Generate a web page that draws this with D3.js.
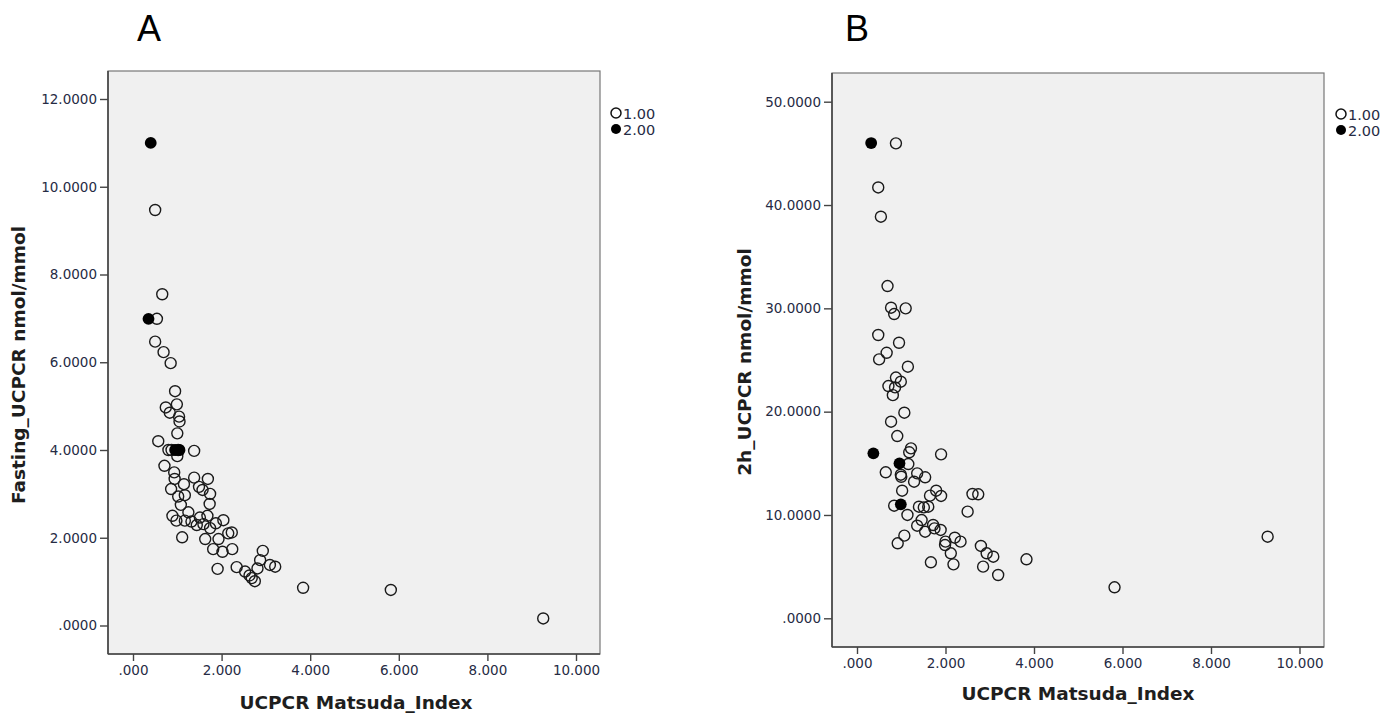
<!DOCTYPE html>
<html>
<head>
<meta charset="utf-8">
<script src="https://cdn.jsdelivr.net/npm/d3@7"></script>
<style>
  body { margin: 0; background: #fff; }
  svg { display: block; }
</style>
</head>
<body>
<div id="chart"></div>
<script>
// ---- data ----
const groups = ["1.00", "2.00"];
const xTicks = [0, 2, 4, 6, 8, 10];
const yTicksA = [0, 2, 4, 6, 8, 10, 12];
const yTicksB = [0, 10, 20, 30, 40, 50];

// panel A: [Matsuda index, fasting UCPCR]
const fastingG1 = [
  [0.50,9.47],[0.66,7.55],[0.54,6.99],[0.50,6.47],[0.69,6.23],[0.85,5.98],
  [0.95,5.34],[0.74,4.97],[0.99,5.04],[0.83,4.85],[1.04,4.76],[1.05,4.65],[1.00,4.38],[0.57,4.20],
  [0.80,4.00],[0.87,4.00],[1.02,4.00],[1.38,3.98],[1.00,3.86],
  [0.71,3.64],[0.93,3.49],[0.94,3.34],[1.38,3.37],[1.69,3.34],[1.15,3.22],[1.49,3.16],[1.57,3.09],
  [0.86,3.11],[1.17,2.97],[1.02,2.94],[1.74,3.00],[1.08,2.75],[1.73,2.77],[1.25,2.58],[0.89,2.50],
  [0.98,2.39],[1.17,2.39],[1.32,2.37],[1.51,2.46],[1.59,2.31],[1.68,2.50],[1.44,2.29],[1.87,2.33],
  [2.04,2.40],[1.74,2.22],[2.15,2.10],[2.23,2.12],[1.11,2.01],[1.63,1.97],[1.93,1.97],[1.81,1.74],
  [2.02,1.68],[2.24,1.74],[1.91,1.29],[2.34,1.33],[2.53,1.23],[2.63,1.14],[2.68,1.08],[2.75,1.01],
  [2.93,1.70],[2.87,1.49],[2.81,1.30],[3.09,1.38],[3.21,1.34],[3.84,0.86],[5.82,0.81],[9.26,0.16]
];
const fastingG2 = [[0.40,11.0],[0.35,6.99],[0.95,4.0],[1.05,4.0]];

// panel B: [Matsuda index, 2h UCPCR]
const twoHourG1 = [
  [0.88,45.97],[0.48,41.7],[0.54,38.87],[0.69,32.16],[0.77,30.06],[1.10,30.0],[0.84,29.45],
  [0.48,27.42],[0.95,26.67],[0.67,25.7],[0.50,25.06],[1.15,24.35],[0.88,23.3],[0.99,22.9],
  [0.71,22.48],[0.86,22.35],[0.81,21.6],[1.07,19.9],[0.77,19.03],[0.91,17.64],[1.22,16.45],
  [1.18,16.07],[1.90,15.87],[1.16,14.93],[0.65,14.13],[0.99,13.9],[1.00,13.7],[1.36,14.03],
  [1.54,13.65],[1.29,13.22],[1.02,12.35],[1.79,12.35],[1.65,11.87],[1.90,11.84],[2.61,12.03],
  [2.74,12.0],[2.50,10.32],[0.84,10.9],[1.40,10.8],[1.51,10.74],[1.61,10.8],[1.14,10.0],
  [1.46,9.51],[1.36,8.96],[1.72,9.03],[1.75,8.7],[1.89,8.55],[1.54,8.38],[1.07,8.0],[0.92,7.26],
  [2.21,7.8],[2.00,7.42],[2.34,7.42],[1.99,7.09],[2.80,7.0],[2.93,6.29],[3.08,5.96],[2.12,6.29],
  [3.83,5.71],[1.67,5.42],[2.18,5.22],[2.85,5.0],[3.19,4.19],[9.28,7.9],[5.82,3.0]
];
const twoHourG2 = [[0.32,46.0],[0.37,15.97],[0.96,15.0],[0.99,11.03]];

const W = 1397, H = 713;
const tickFont = "DejaVu Sans, Verdana, sans-serif";
const tickColor = "#262b44";

const svg = d3.select("#chart").append("svg")
  .attr("width", W).attr("height", H);

const fmtX = v => d3.format(".3f")(v).replace(/^0\./, ".");
const fmtY = v => d3.format(".4f")(v).replace(/^0\./, ".");

function drawPanel(p) {
  const {frame} = p;
  const x = d3.scaleLinear().domain([0, 10]).range(p.xRange);
  const y = d3.scaleLinear().domain(p.yDomain).range(p.yRange);
  const g = svg.append("g");

  // panel letter
  g.append("text")
    .attr("x", p.letterX).attr("y", 41)
    .attr("text-anchor", "middle")
    .style("font-family", "Liberation Sans, Arial, sans-serif")
    .style("font-size", "36px")
    .text(p.letter);

  // plot background and frame
  g.append("rect")
    .attr("x", frame.left).attr("y", frame.top)
    .attr("width", frame.right - frame.left).attr("height", frame.bottom - frame.top)
    .attr("fill", "#f0f0f0").attr("stroke", "#777").attr("stroke-width", 1.2);

  // axes
  const xAxis = d3.axisBottom(x).tickValues(xTicks).tickFormat(fmtX).tickSize(7).tickPadding(4);
  const gx = g.append("g").attr("transform", `translate(0,${frame.bottom})`).call(xAxis);
  gx.select(".domain").attr("d", `M${frame.left},0H${frame.right}`);

  const yAxis = d3.axisLeft(y).tickValues(p.yTicks).tickFormat(fmtY).tickSize(8).tickPadding(3);
  const gy = g.append("g").attr("transform", `translate(${frame.left},0)`).call(yAxis);
  gy.select(".domain").attr("d", `M0,${frame.top}V${frame.bottom}`);

  [gx, gy].forEach(a => {
    a.select(".domain").attr("stroke", "#444").attr("stroke-width", 1.6);
    a.selectAll(".tick line").attr("stroke", "#444").attr("stroke-width", 1.4);
    a.selectAll(".tick text")
      .attr("fill", tickColor)
      .style("font-family", tickFont)
      .style("font-size", "13.5px");
  });

  // axis titles
  g.append("text")
    .attr("x", (frame.left + frame.right) / 2 + p.xTitleShift).attr("y", p.xTitleY)
    .attr("text-anchor", "middle")
    .style("font-family", tickFont).style("font-weight", "bold").style("font-size", "18.5px")
    .attr("fill", "#1e1e1e")
    .text("UCPCR Matsuda_Index");

  g.append("text")
    .attr("transform", `translate(${p.yTitleX},${p.yTitleY}) rotate(-90)`)
    .attr("text-anchor", "middle")
    .style("font-family", tickFont).style("font-weight", "bold").style("font-size", "18.5px")
    .attr("fill", "#1e1e1e")
    .text(p.yTitle);

  // points
  const pts = g.append("g");
  pts.selectAll("circle.g1").data(p.g1).join("circle")
    .attr("class", "g1")
    .attr("cx", d => x(d[0])).attr("cy", d => y(d[1])).attr("r", 5.5)
    .attr("fill", "none").attr("stroke", "#1a1a1a").attr("stroke-width", 1.4);
  pts.selectAll("circle.g2").data(p.g2).join("circle")
    .attr("class", "g2")
    .attr("cx", d => x(d[0])).attr("cy", d => y(d[1])).attr("r", 5.9)
    .attr("fill", "#000");

  // legend
  const leg = g.append("g").attr("transform", `translate(${p.legendX},${p.legendY})`);
  leg.selectAll("g").data(groups).join("g")
    .attr("transform", (d, i) => `translate(0,${i * 16})`)
    .each(function(d, i) {
      const s = d3.select(this);
      s.append("circle").attr("r", 5)
        .attr("fill", i === 0 ? "#fff" : "#000")
        .attr("stroke", "#111").attr("stroke-width", i === 0 ? 1.5 : 0);
      s.append("text").attr("x", 7).attr("y", 5.5)
        .attr("fill", tickColor)
        .style("font-family", tickFont).style("font-size", "14.5px")
        .text(d);
    });
}

drawPanel({
  letter: "A", letterX: 149,
  frame: {left: 108, right: 600, top: 71, bottom: 654},
  xRange: [133, 576],
  yDomain: [0, 12], yRange: [625.5, 99], yTicks: yTicksA,
  yTitle: "Fasting_UCPCR nmol/mmol", yTitleX: 25, yTitleY: 365,
  xTitleShift: 2, xTitleY: 709,
  g1: fastingG1, g2: fastingG2,
  legendX: 616, legendY: 113
});

drawPanel({
  letter: "B", letterX: 857,
  frame: {left: 832, right: 1324, top: 73, bottom: 647},
  xRange: [857, 1299.5],
  yDomain: [0, 50], yRange: [618.3, 101.7], yTicks: yTicksB,
  yTitle: "2h_UCPCR nmol/mmol", yTitleX: 751, yTitleY: 362,
  xTitleShift: 0, xTitleY: 700,
  g1: twoHourG1, g2: twoHourG2,
  legendX: 1341, legendY: 114
});
</script>
</body>
</html>
